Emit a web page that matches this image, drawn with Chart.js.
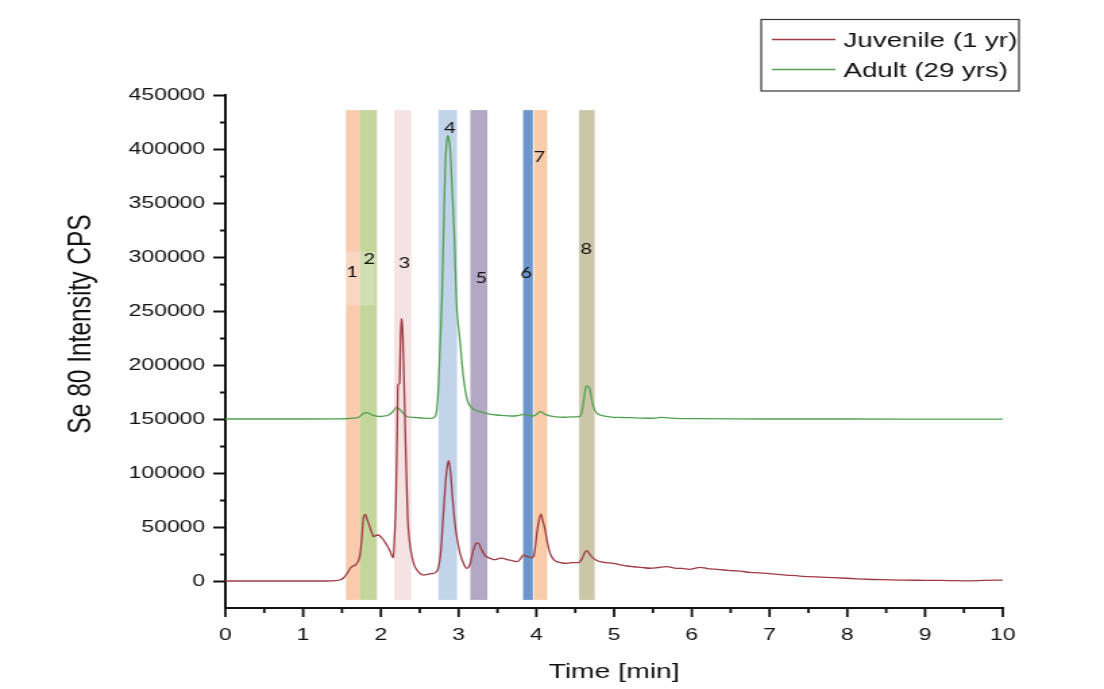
<!DOCTYPE html>
<html>
<head>
<meta charset="utf-8">
<title>Se 80 chromatogram</title>
<script src="https://cdn.jsdelivr.net/npm/chart.js@4.4.1/dist/chart.umd.min.js"></script>
<style>
  html, body { margin: 0; padding: 0; background: #fff; }
</style>
</head>
<body>
<!-- drawn narrow, shown wide: the figure is stretched sideways -->
<canvas id="chrom" width="818" height="689" style="display:block;width:1104px;height:689px"></canvas>
<script>
// Juvenile (1 yr) trace: time [min] and Se 80 counts
const timeJuvenile = [
  0, 0.5, 1.0, 1.3, 1.42, 1.48, 1.52, 1.56, 1.607, 1.64, 1.671, 1.693, 1.715, 1.735, 1.755, 1.778, 1.8, 1.82, 1.842, 1.865,
  1.886, 1.906, 1.93, 1.97, 2.0, 2.035, 2.07, 2.1, 2.125, 2.142, 2.16, 2.175, 2.194, 2.21, 2.22, 2.24, 2.25, 2.262, 2.274, 2.284,
  2.3, 2.314, 2.33, 2.344, 2.37, 2.4, 2.43, 2.464, 2.5, 2.549, 2.6, 2.65, 2.678, 2.705, 2.73, 2.75, 2.773, 2.8, 2.828, 2.85,
  2.87, 2.885, 2.901, 2.92, 2.943, 2.97, 2.999, 3.03, 3.063, 3.085, 3.107, 3.13, 3.149, 3.18, 3.213, 3.236, 3.256, 3.29, 3.32, 3.36,
  3.406, 3.45, 3.492, 3.53, 3.577, 3.62, 3.663, 3.7, 3.749, 3.79, 3.835, 3.87, 3.899, 3.935, 3.963, 3.985, 4.006, 4.03, 4.058, 4.08,
  4.113, 4.14, 4.177, 4.22, 4.263, 4.32, 4.392, 4.46, 4.541, 4.59, 4.625, 4.649, 4.69, 4.734, 4.78, 4.82, 4.9, 4.99, 5.08, 5.163,
  5.25, 5.35, 5.463, 5.57, 5.677, 5.78, 5.88, 5.977, 6.04, 6.105, 6.2, 6.3, 6.42, 6.53, 6.62, 6.75, 6.86, 6.96, 7.1, 7.25,
  7.39, 7.6, 7.82, 8.05, 8.25, 8.45, 8.68, 8.9, 9.1, 9.3, 9.53, 9.75, 10
];
const cpsJuvenile = [
  0, 0, 0, 0, 300, 1200, 2800, 6500, 11800, 13800, 14800, 16400, 19500, 25600, 40000, 59500, 61700, 57500, 53400, 48500,
  44100, 41000, 42000, 42600, 40800, 38000, 34000, 30200, 26500, 23100, 21500, 40000, 75000, 140000, 181500, 183000, 215000, 243000, 238000, 223000,
  180000, 136700, 95000, 59500, 36000, 22500, 14500, 10200, 7200, 5500, 6200, 6800, 7100, 8000, 10200, 16000, 28700, 58000, 87300, 104000,
  111400, 107000, 96600, 78000, 59500, 44000, 31800, 22500, 16400, 13000, 11800, 13000, 16400, 26000, 33300, 35200, 34900, 30000, 25600, 22500,
  21000, 19800, 20100, 21200, 21000, 19800, 19400, 18600, 17900, 20000, 24100, 22800, 22500, 21500, 22500, 31000, 44100, 55000, 62000, 56500,
  47200, 36000, 25600, 20000, 17900, 16900, 16400, 17000, 17000, 21000, 26500, 28100, 24500, 21000, 19000, 17900, 17000, 16400, 15000, 13900,
  13200, 12600, 11800, 12500, 13300, 12000, 11600, 10800, 11800, 12700, 11500, 10900, 10200, 9500, 9100, 8000, 7600, 7100, 6100, 5300,
  4600, 3800, 3100, 2300, 1600, 1200, 900, 700, 600, 400, 200, 500, 900
];

// Adult (29 yrs) trace
const timeAdult = [
  0, 1.0, 1.5, 1.693, 1.74, 1.778, 1.82, 1.86, 1.886, 1.94, 1.992, 2.05, 2.1, 2.15, 2.198, 2.22, 2.25, 2.29, 2.335, 2.4,
  2.464, 2.55, 2.657, 2.69, 2.712, 2.728, 2.742, 2.76, 2.785, 2.806, 2.828, 2.845, 2.862, 2.878, 2.892, 2.915, 2.943, 2.97, 2.978, 3.0,
  3.021, 3.045, 3.072, 3.1, 3.128, 3.16, 3.192, 3.25, 3.32, 3.4, 3.49, 3.58, 3.663, 3.75, 3.835, 3.9, 3.963, 4.01, 4.049, 4.09,
  4.13, 4.177, 4.26, 4.35, 4.45, 4.556, 4.59, 4.62, 4.64, 4.66, 4.683, 4.71, 4.734, 4.77, 4.82, 4.9, 4.99, 5.1, 5.206, 5.35,
  5.5, 5.6, 5.7, 5.85, 6.0, 6.5, 7.0, 8.0, 9.0, 10
];
const cpsAdult = [
  150000, 150000, 150200, 151000, 153000, 155200, 155900, 154800, 153700, 152600, 152300, 152800, 153700, 156500, 160500, 160200, 158400, 155000, 152300, 151600,
  151300, 150900, 150600, 151800, 155200, 166000, 183000, 215000, 260200, 321900, 383600, 405000, 412300, 408000, 399100, 365000, 322000, 263300, 250900, 234000,
  220100, 200000, 183000, 171000, 164400, 161000, 159000, 157300, 155800, 154600, 153700, 153200, 152800, 153000, 154300, 153300, 152800, 154800, 156800, 155400,
  153800, 152800, 152000, 151600, 151900, 152300, 158000, 172000, 180600, 180200, 178700, 169000, 161400, 156000, 153700, 152400, 151600, 151400, 151300, 150900,
  150700, 151500, 151000, 150400, 150300, 150100, 150000, 150000, 149900, 149800
];

// fraction windows (min) and their numbers
const bandStart = [1.55, 1.735, 2.17, 2.74, 3.15, 3.83, 3.97, 4.55];
const bandEnd   = [1.735, 1.95, 2.39, 2.98, 3.37, 3.955, 4.14, 4.75];
const bandNames = ['1', '2', '3', '4', '5', '6', '7', '8'];
const bandLow = -17500;
const bandHigh = 436000;
const bandColors = ['#F8CBAD', '#C3D69B', '#F5E2E2', '#C2D4EA', '#B3A8C3', '#6C96C9', '#F8CCA9', '#CCC6A9'];
const nameTime = [1.63, 1.85, 2.30, 2.89, 3.29, 3.87, 4.04, 4.64];
const nameCps  = [286000, 298000, 294000, 419000, 280000, 285000, 392000, 307000];

const yTicksMajor = 50000;
const FONT = "'Liberation Sans', Arial, sans-serif";
const RED = '#9E3A44';
const GREEN = '#52A052';

const toPoints = (xs, ys) => xs.map((t, i) => ({ x: t, y: ys[i] }));

const fractionBands = {
  id: 'fractionBands',
  beforeDatasetsDraw(chart) {
    const { ctx, scales: { x, y } } = chart;
    ctx.save();
    const top = y.getPixelForValue(bandHigh);
    const bottom = y.getPixelForValue(bandLow);
    bandStart.forEach((s, i) => {
      const x0 = x.getPixelForValue(s);
      const x1 = x.getPixelForValue(bandEnd[i]);
      ctx.fillStyle = bandColors[i];
      ctx.fillRect(x0, top, x1 - x0, bottom - top);
    });
    // light label box sitting over fractions 1 and 2
    ctx.fillStyle = 'rgba(255,255,255,0.22)';
    const bx0 = x.getPixelForValue(1.55), bx1 = x.getPixelForValue(1.93);
    const by0 = y.getPixelForValue(305000), by1 = y.getPixelForValue(255000);
    ctx.fillRect(bx0, by0, bx1 - bx0, by1 - by0);
    ctx.restore();
  },
  afterDatasetsDraw(chart) {
    const { ctx, scales: { x, y } } = chart;
    ctx.save();
    ctx.font = "15px Lato, 'Open Sans', sans-serif";
    ctx.fillStyle = '#111';
    ctx.textAlign = 'center';
    ctx.textBaseline = 'middle';
    bandNames.forEach((n, i) => {
      ctx.fillText(n, x.getPixelForValue(nameTime[i]), y.getPixelForValue(nameCps[i]));
    });
    ctx.restore();
  }
};

// major + minor tick marks, pointing outward
const tickMarks = {
  id: 'tickMarks',
  afterDraw(chart) {
    const { ctx, scales: { x, y }, chartArea } = chart;
    ctx.save();
    ctx.strokeStyle = '#111';
    ctx.lineWidth = 1.8;
    ctx.beginPath();
    y.ticks.forEach(t => {
      if (t.value === y.min) return;
      const len = t.value % yTicksMajor === 0 ? 9 : 4;
      const py = Math.round(y.getPixelForValue(t.value)) + 0.5;
      ctx.moveTo(chartArea.left - len, py);
      ctx.lineTo(chartArea.left, py);
    });
    x.ticks.forEach(t => {
      const len = Number.isInteger(t.value) ? 9 : 5;
      const px = x.getPixelForValue(t.value);
      ctx.moveTo(px, chartArea.bottom);
      ctx.lineTo(px, chartArea.bottom + len);
    });
    ctx.stroke();
    ctx.restore();
  }
};

// boxed legend top right, y title placed by hand
const extras = {
  id: 'extras',
  afterDraw(chart) {
    const { ctx } = chart;
    ctx.save();
    ctx.strokeStyle = '#333';
    ctx.lineWidth = 1.2;
    ctx.strokeRect(564, 19.5, 191, 71.5);
    ctx.lineWidth = 1.3;
    ctx.strokeStyle = RED;
    ctx.beginPath(); ctx.moveTo(572, 39.5); ctx.lineTo(619, 39.5); ctx.stroke();
    ctx.strokeStyle = GREEN;
    ctx.beginPath(); ctx.moveTo(572, 69.5); ctx.lineTo(619, 69.5); ctx.stroke();
    ctx.fillStyle = '#111';
    ctx.font = '20.5px ' + FONT;
    ctx.textBaseline = 'middle';
    ctx.textAlign = 'left';
    ctx.fillText('Juvenile (1 yr)', 625, 41);
    ctx.fillText('Adult (29 yrs)', 625, 71);

    ctx.translate(60, 324);
    ctx.rotate(-Math.PI / 2);
    ctx.textAlign = 'center';
    ctx.font = '24.5px ' + FONT;
    ctx.fillText('Se 80 Intensity CPS', 0, 0);
    ctx.restore();
  }
};

new Chart(document.getElementById('chrom'), {
  type: 'line',
  data: {
    datasets: [
      {
        label: 'Juvenile (1 yr)',
        data: toPoints(timeJuvenile, cpsJuvenile),
        borderColor: RED,
        borderWidth: 1.3,
        pointRadius: 0,
        cubicInterpolationMode: 'monotone',
        fill: false
      },
      {
        label: 'Adult (29 yrs)',
        data: toPoints(timeAdult, cpsAdult),
        borderColor: GREEN,
        borderWidth: 1.3,
        pointRadius: 0,
        cubicInterpolationMode: 'monotone',
        fill: false
      }
    ]
  },
  options: {
    responsive: false,
    devicePixelRatio: 1,
    animation: false,
    layout: { padding: { top: 95, right: 75, bottom: 0, left: 0 } },
    plugins: {
      legend: { display: false },
      tooltip: { enabled: false }
    },
    scales: {
      x: {
        type: 'linear',
        min: 0,
        max: 10,
        afterFit: s => { s.height = 81; },
        grid: { display: false, drawTicks: false },
        border: { display: true, color: '#111', width: 2 },
        ticks: {
          stepSize: 0.5,
          autoSkip: false,
          maxRotation: 0,
          padding: 17,
          color: '#111',
          font: { family: FONT, size: 17 },
          callback: v => Number.isInteger(v) ? String(v) : ''
        },
        title: {
          display: true,
          text: 'Time [min]',
          color: '#111',
          font: { family: FONT, size: 21 },
          padding: { top: 0, bottom: 4 }
        }
      },
      y: {
        type: 'linear',
        min: -25000,
        max: 450000,
        afterFit: s => { s.width = 167; },
        grid: { display: false, drawTicks: false },
        border: { display: true, color: '#111', width: 2 },
        ticks: {
          stepSize: 25000,
          autoSkip: false,
          padding: 15,
          color: '#111',
          font: { family: FONT, size: 17 },
          callback: v => (v >= 0 && v % yTicksMajor === 0) ? String(v) : ''
        }
      }
    }
  },
  plugins: [fractionBands, tickMarks, extras]
});
</script>
</body>
</html>
